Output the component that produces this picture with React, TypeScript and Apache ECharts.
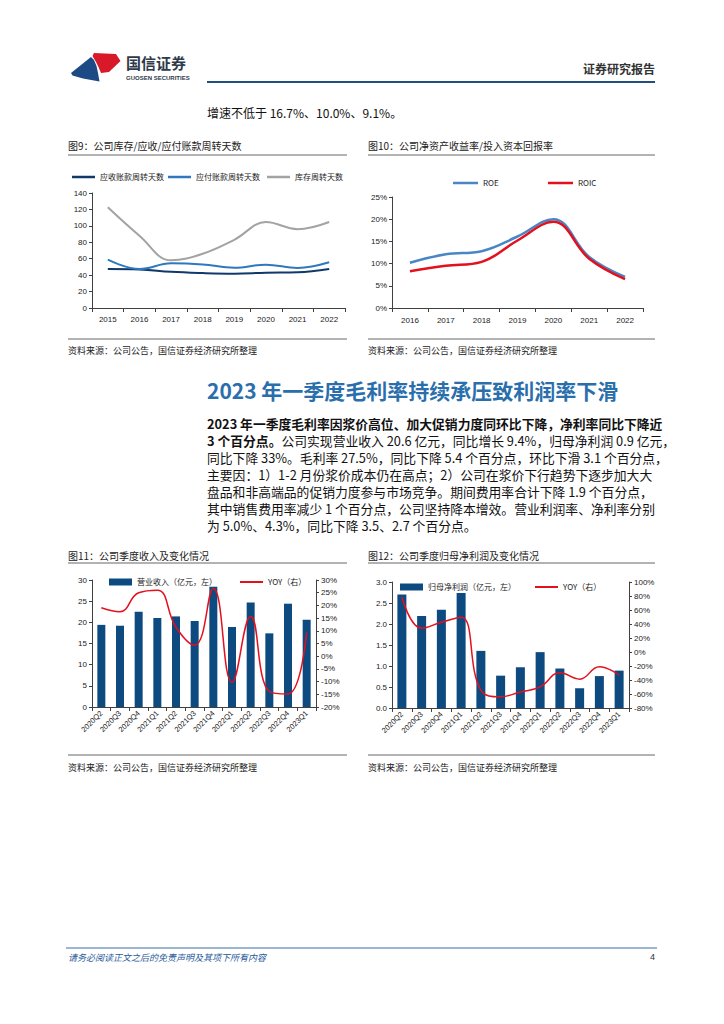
import React, { useEffect, useRef } from "react";
import * as echarts from "echarts";

const years9 = ["2015", "2016", "2017", "2018", "2019", "2020", "2021", "2022"];
const receivableDays = [47.5, 47, 44, 42.5, 41.8, 43, 43.5, 47.5];
const payableDays = [58.8, 47.5, 54.4, 53, 49, 52.8, 48.7, 55.6];
const inventoryDays = [122.6, 88, 58, 66, 83, 104.7, 96, 104.7];

const years10 = ["2016", "2017", "2018", "2019", "2020", "2021", "2022"];
const roe = [10.2, 12.1, 12.8, 16.1, 20.0, 11.5, 7.0];
const roic = [8.3, 9.5, 10.4, 15.2, 19.4, 11.1, 6.5];

const quarters = ["2020Q2", "2020Q3", "2020Q4", "2021Q1", "2021Q2", "2021Q3", "2021Q4", "2022Q1", "2022Q2", "2022Q3", "2022Q4", "2023Q1"];
const revenue = [19.4, 19.2, 22.5, 21.0, 21.4, 20.3, 28.4, 18.9, 24.7, 17.4, 24.4, 20.6];
const revenueYoy = [19.1, 17.5, 25.0, 26.0, 11.4, 4.3, 26.7, -10.3, 15.6, -13.9, -14.9, 9.4];
const netProfit = [2.7, 2.19, 2.34, 2.74, 1.36, 0.77, 0.97, 1.33, 0.94, 0.47, 0.76, 0.89];
const netProfitYoy = [78.5, 34, 42.6, 49.8, -54.6, -64, -57, -49.8, -29.7, -38.8, -21, -33];

const paragraph = [
  "2023 年一季度毛利率因浆价高位、加大促销力度同环比下降，净利率同比下降近",
  "公司实现营业收入 20.6 亿元，同比增长 9.4%，归母净利润 0.9 亿元，",
  "同比下降 33%。毛利率 27.5%，同比下降 5.4 个百分点，环比下滑 3.1 个百分点，",
  "主要因：1）1-2 月份浆价成本仍在高点；2）公司在浆价下行趋势下逐步加大大",
  "盘品和非高端品的促销力度参与市场竞争。期间费用率合计下降 1.9 个百分点，",
  "其中销售费用率减少 1 个百分点，公司坚持降本增效。营业利润率、净利率分别",
  "为 5.0%、4.3%，同比下降 3.5、2.7 个百分点。",
];

const CJK = '"Noto Sans CJK SC", "Noto Sans", sans-serif';
const NUM = '"Liberation Sans", Arial, sans-serif';
const NAVY = "#0d4a80";
const RED = "#e3101e";

function txt(text: string, x: number, y: number, size: number, extra: any = {}) {
  return {
    type: "text",
    x,
    y,
    silent: true,
    style: {
      text,
      fontSize: size,
      fontFamily: CJK,
      fill: "#222",
      verticalAlign: "middle",
      align: "left",
      ...extra,
    },
  };
}

function hline(x1: number, x2: number, y: number, color: string, w = 1) {
  return {
    type: "line",
    silent: true,
    shape: { x1, y1: y, x2, y2: y },
    style: { stroke: color, lineWidth: w },
  };
}

const axisLine = { show: true, lineStyle: { color: "#404040", width: 1 } };
const axisTick = { show: true, length: 3, lineStyle: { color: "#404040" } };
const lab = (extra: any = {}) => ({ color: "#222", fontSize: 8, fontFamily: NUM, ...extra });

export default function App() {
  const ref = useRef<HTMLDivElement>(null);
  useEffect(() => {
    if (!ref.current) return;
    const chart = echarts.init(ref.current, undefined, { renderer: "svg" });

    const graphic: any[] = [
      // logo
      {
        type: "polygon",
        silent: true,
        shape: {
          points: [
            [94, 53], [116, 54], [120.5, 61], [109, 72], [101, 73], [98.5, 67], [96, 62], [92.5, 56],
          ],
        },
        style: { fill: "#d7192a" },
      },
      {
        type: "polygon",
        silent: true,
        shape: {
          points: [
            [91, 57], [71, 73], [72.5, 75.5], [83, 78.5], [99.5, 81.5], [98, 73], [96.5, 66], [94, 60],
          ],
        },
        style: { fill: "#1b4a85" },
      },
      txt("国信证券", 126, 62.5, 15, { fontWeight: "bold", fill: "#2e3a4a" }),
      txt("GUOSEN SECURITIES", 126, 77.5, 6, { fontWeight: "bold", fill: "#2e3a4a", fontFamily: NUM }),
      hline(207, 655, 82, "#1f4e83", 2),
      txt("证券研究报告", 655, 68, 12, { align: "right", fontWeight: "bold", fill: "#333" }),
      txt("增速不低于 16.7%、10.0%、9.1%。", 207, 112, 12, { fill: "#111" }),

      txt("图9：公司库存/应收/应付账款周转天数", 68, 145, 10),
      hline(68, 347, 155, "#666", 1),
      txt("图10：公司净资产收益率/投入资本回报率", 368, 145, 10),
      hline(368, 655, 155, "#666", 1),
      hline(68, 347, 339, "#666", 1),
      hline(368, 655, 339, "#666", 1),
      txt("资料来源：公司公告，国信证券经济研究所整理", 68, 350, 9),
      txt("资料来源：公司公告，国信证券经济研究所整理", 368, 350, 9),

      txt("2023 年一季度毛利率持续承压致利润率下滑", 207, 390, 21, { fontWeight: "bold", fill: "#2a6fab" }),

      txt("图11：公司季度收入及变化情况", 68, 555, 10),
      hline(68, 347, 563, "#666", 1),
      txt("图12：公司季度归母净利润及变化情况", 368, 555, 10),
      hline(368, 655, 563, "#666", 1),
      hline(68, 347, 755, "#666", 1),
      hline(368, 655, 755, "#666", 1),
      txt("资料来源：公司公告，国信证券经济研究所整理", 68, 767, 9),
      txt("资料来源：公司公告，国信证券经济研究所整理", 368, 767, 9),

      hline(66, 657, 948, "#3a6ea5", 1),
      txt("请务必阅读正文之后的免责声明及其项下所有内容", 68, 957, 9, { fill: "#2a5a9a", fontStyle: "italic" }),
      txt("4", 655, 957, 9, { align: "right", fill: "#333", fontFamily: NUM }),
    ];

    const lineY = [423, 440, 457, 474, 491, 508, 525];
    paragraph.forEach((line, i) => {
      if (i === 0) {
        graphic.push(txt(line, 207, lineY[i], 12.8, { fontWeight: "bold", fill: "#111" }));
      } else if (i === 1) {
        graphic.push({
          type: "text",
          x: 207,
          y: lineY[i],
          silent: true,
          style: {
            text: "{b|3 个百分点。}{n|" + line + "}",
            verticalAlign: "middle",
            rich: {
              b: { fontSize: 12.8, fontFamily: CJK, fontWeight: "bold", fill: "#111", color: "#111" },
              n: { fontSize: 12.8, fontFamily: CJK, fill: "#111", color: "#111" },
            },
          },
        });
      } else {
        graphic.push(txt(line, 207, lineY[i], 12.8, { fill: "#111" }));
      }
    });

    const legendBase = { padding: 0, itemGap: 0, textStyle: { fontSize: 8, fontFamily: CJK, color: "#222" } };

    const option: any = {
      animation: false,
      backgroundColor: "#fff",
      graphic,
      grid: [
        { left: 92, top: 193, width: 253, height: 115 },
        { left: 392, top: 197, width: 251, height: 111 },
        { left: 92, top: 580, width: 224, height: 127 },
        { left: 392, top: 582, width: 237, height: 126 },
      ],
      legend: [
        { ...legendBase, data: ["应收账款周转天数"], left: 72, top: 173, icon: "rect", itemWidth: 23, itemHeight: 2.5 },
        { ...legendBase, data: ["应付账款周转天数"], left: 168, top: 173, icon: "rect", itemWidth: 23, itemHeight: 2.5 },
        { ...legendBase, data: ["库存周转天数"], left: 267, top: 173, icon: "rect", itemWidth: 23, itemHeight: 2.5 },
        { ...legendBase, data: ["ROE"], left: 453, top: 179, icon: "rect", itemWidth: 25, itemHeight: 2.5 },
        { ...legendBase, data: ["ROIC"], left: 548, top: 179, icon: "rect", itemWidth: 25, itemHeight: 2.5 },
        { ...legendBase, data: ["营业收入（亿元，左）"], left: 109, top: 578, icon: "rect", itemWidth: 23, itemHeight: 7 },
        { ...legendBase, data: ["YOY（右）"], left: 240, top: 578, icon: "rect", itemWidth: 23, itemHeight: 2 },
        { ...legendBase, data: ["归母净利润（亿元，左）"], left: 400, top: 583, icon: "rect", itemWidth: 23, itemHeight: 7 },
        { ...legendBase, data: ["YOY（右） "], left: 535, top: 583, icon: "rect", itemWidth: 23, itemHeight: 2 },
      ],
      xAxis: [
        {
          type: "category", gridIndex: 0, data: years9, axisLine, axisTick: { ...axisTick, length: 4 },
          axisLabel: lab({ margin: 7 }),
        },
        {
          type: "category", gridIndex: 1, data: years10, axisLine, axisTick: { ...axisTick, length: 4 },
          axisLabel: lab({ margin: 8 }),
        },
        {
          type: "category", gridIndex: 2, data: quarters, axisLine, axisTick: { ...axisTick, length: 4 },
          axisLabel: lab({ rotate: 45, interval: 0, fontSize: 7.5, margin: 5 }),
        },
        {
          type: "category", gridIndex: 3, data: quarters, axisLine, axisTick: { ...axisTick, length: 4 },
          axisLabel: lab({ rotate: 45, interval: 0, fontSize: 7.5, margin: 5 }),
        },
      ],
      yAxis: [
        {
          type: "value", gridIndex: 0, min: 0, max: 140, interval: 20, axisLine, axisTick,
          splitLine: { show: false }, axisLabel: lab({ margin: 5 }),
        },
        {
          type: "value", gridIndex: 1, min: 0, max: 25, interval: 5, axisLine, axisTick,
          splitLine: { show: false }, axisLabel: lab({ margin: 5, formatter: "{value}%" }),
        },
        {
          type: "value", gridIndex: 2, min: 0, max: 30, interval: 5, axisLine, axisTick,
          splitLine: { show: false }, axisLabel: lab({ margin: 5 }),
        },
        {
          type: "value", gridIndex: 2, position: "right", min: -20, max: 30, interval: 5, axisLine, axisTick,
          splitLine: { show: false }, axisLabel: lab({ margin: 5, formatter: "{value}%" }),
        },
        {
          type: "value", gridIndex: 3, min: 0, max: 3, interval: 0.5, axisLine, axisTick,
          splitLine: { show: false }, axisLabel: lab({ margin: 5, formatter: (v: number) => v.toFixed(1) }),
        },
        {
          type: "value", gridIndex: 3, position: "right", min: -80, max: 100, interval: 20, axisLine, axisTick,
          splitLine: { show: false }, axisLabel: lab({ margin: 5, formatter: "{value}%" }),
        },
      ],
      series: [
        {
          name: "应收账款周转天数", type: "line", xAxisIndex: 0, yAxisIndex: 0, data: receivableDays,
          smooth: 0.4, symbol: "none", lineStyle: { width: 2, color: "#10386a" }, itemStyle: { color: "#10386a" },
        },
        {
          name: "应付账款周转天数", type: "line", xAxisIndex: 0, yAxisIndex: 0, data: payableDays,
          smooth: 0.4, symbol: "none", lineStyle: { width: 2, color: "#2f78bd" }, itemStyle: { color: "#2f78bd" },
        },
        {
          name: "库存周转天数", type: "line", xAxisIndex: 0, yAxisIndex: 0, data: inventoryDays,
          smooth: 0.4, symbol: "none", lineStyle: { width: 2, color: "#a3a3a3" }, itemStyle: { color: "#a3a3a3" },
        },
        {
          name: "ROE", type: "line", xAxisIndex: 1, yAxisIndex: 1, data: roe,
          smooth: 0.4, symbol: "none", lineStyle: { width: 2.5, color: "#4a86c5" }, itemStyle: { color: "#4a86c5" },
        },
        {
          name: "ROIC", type: "line", xAxisIndex: 1, yAxisIndex: 1, data: roic,
          smooth: 0.4, symbol: "none", lineStyle: { width: 2.5, color: RED }, itemStyle: { color: RED },
        },
        {
          name: "营业收入（亿元，左）", type: "bar", xAxisIndex: 2, yAxisIndex: 2, data: revenue,
          barWidth: 8, itemStyle: { color: NAVY },
        },
        {
          name: "YOY（右）", type: "line", xAxisIndex: 2, yAxisIndex: 3, data: revenueYoy,
          smooth: 0.45, symbol: "none", lineStyle: { width: 1.5, color: RED }, itemStyle: { color: RED }, z: 5,
        },
        {
          name: "归母净利润（亿元，左）", type: "bar", xAxisIndex: 3, yAxisIndex: 4, data: netProfit,
          barWidth: 9, itemStyle: { color: NAVY },
        },
        {
          name: "YOY（右） ", type: "line", xAxisIndex: 3, yAxisIndex: 5, data: netProfitYoy,
          smooth: 0.45, symbol: "none", lineStyle: { width: 1.5, color: RED }, itemStyle: { color: RED }, z: 5,
        },
      ],
    };
    chart.setOption(option);
    return () => chart.dispose();
  }, []);

  return (
    <div
      ref={ref}
      style={{ position: "absolute", left: 0, top: 0, width: 724, height: 1024, background: "#fff" }}
    />
  );
}
